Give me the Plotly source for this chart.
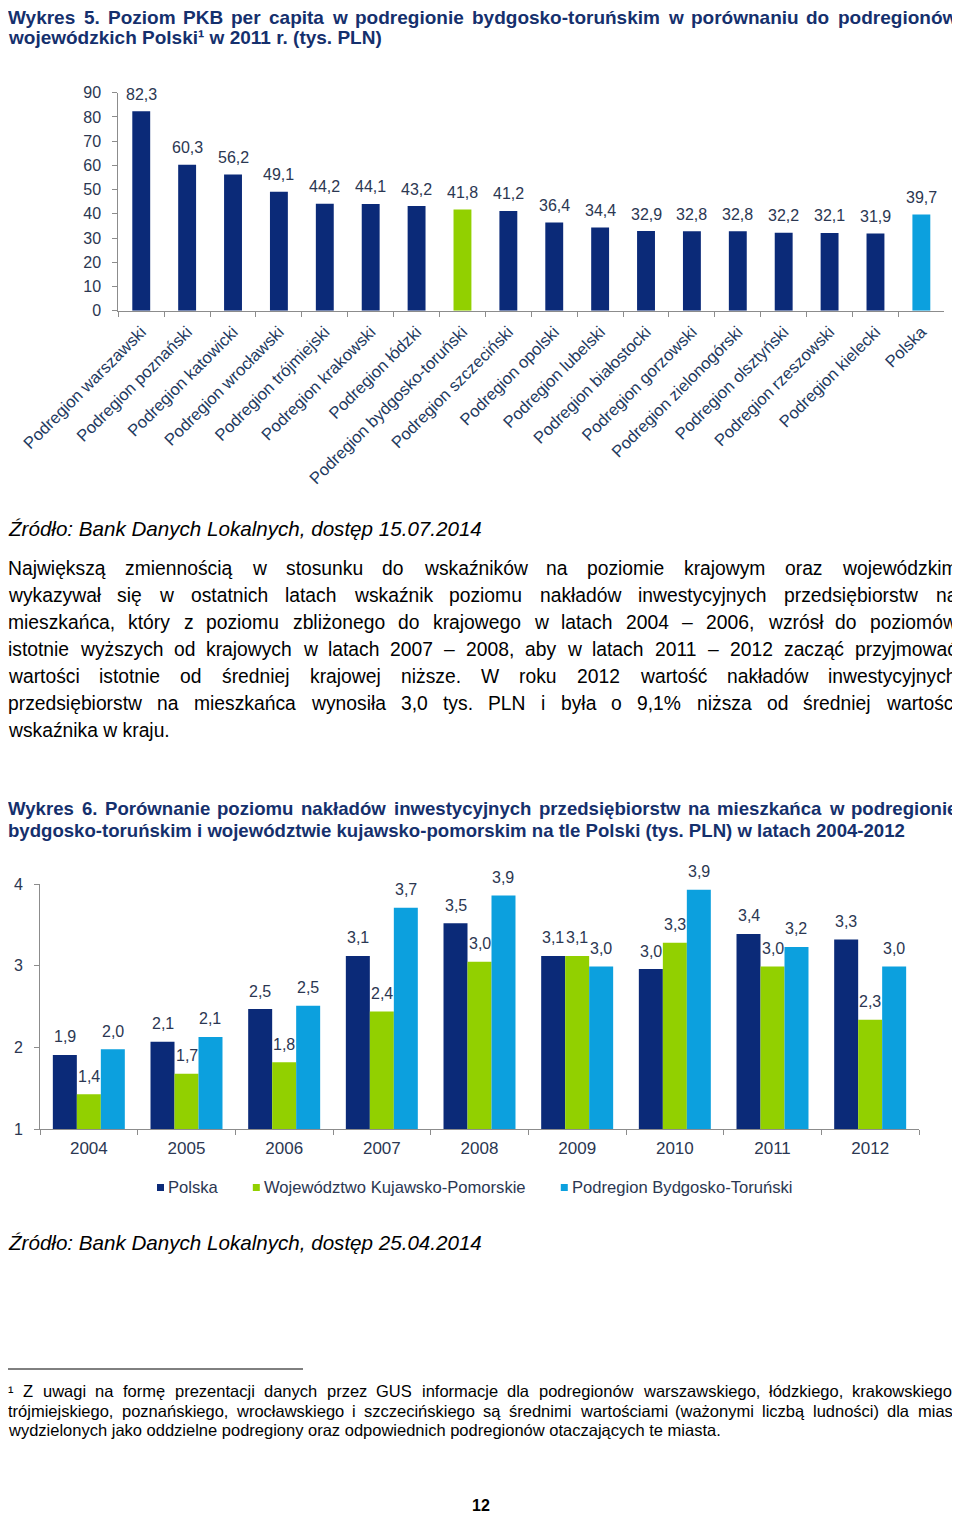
import plotly.graph_objects as go

# ---------------- DATA ----------------
regions = ["Podregion warszawski", "Podregion poznański", "Podregion katowicki",
           "Podregion wrocławski", "Podregion trójmiejski", "Podregion krakowski",
           "Podregion łódzki", "Podregion bydgosko-toruński", "Podregion szczeciński",
           "Podregion opolski", "Podregion lubelski", "Podregion białostocki",
           "Podregion gorzowski", "Podregion zielonogórski", "Podregion olsztyński",
           "Podregion rzeszowski", "Podregion kielecki", "Polska"]
pkb_2011 = [82.3, 60.3, 56.2, 49.1, 44.2, 44.1, 43.2, 41.8, 41.2, 36.4, 34.4,
            32.9, 32.8, 32.8, 32.2, 32.1, 31.9, 39.7]
highlight_region = "Podregion bydgosko-toruński"
highlight_country = "Polska"

years = ["2004", "2005", "2006", "2007", "2008", "2009", "2010", "2011", "2012"]
series_names = ["Polska", "Województwo Kujawsko-Pomorskie", "Podregion Bydgosko-Toruński"]
inv_polska = [1.91, 2.07, 2.47, 3.12, 3.52, 3.12, 2.96, 3.39, 3.32]
inv_woj = [1.43, 1.68, 1.82, 2.44, 3.05, 3.12, 3.28, 2.99, 2.34]
inv_podregion = [1.98, 2.13, 2.51, 3.71, 3.86, 2.99, 3.93, 3.23, 2.99]

# ---------------- STYLE ----------------
# The page body has an 8px default margin: the figure starts at (8, 8) in the window.
# Height is kept so that the page does not scroll.
OX, OY = 8, 8
W, H = 960 - OX, 1524 - 2 * OY
FONT = "Liberation Sans, Arial, sans-serif"
NAVY = "#0B2A78"
GREEN = "#92D000"
LBLUE = "#0CA0DE"
TITLE_C = "#15306D"
CHART_TXT = "#2B3752"
CAT_TXT = "#22395E"
AXIS_C = "#8C8C8C"
series_colors = [NAVY, GREEN, LBLUE]


def px(x):
    return (x - OX) / W


def py(y):
    return 1 - (y - OY) / H


REG = {' ': 278, '¹': 333, '%': 889, '(': 333, ')': 333, ',': 278, '-': 333, '.': 278,
       ':': 278, '–': 556,
       'A': 667, 'B': 667, 'C': 722, 'D': 722, 'E': 667, 'F': 611, 'G': 778, 'H': 722,
       'I': 278, 'J': 500, 'K': 667, 'L': 556, 'M': 833, 'N': 722, 'O': 778, 'P': 667,
       'Q': 778, 'R': 722, 'S': 667, 'T': 611, 'U': 722, 'V': 667, 'W': 944, 'X': 667,
       'Y': 667, 'Z': 611,
       'a': 556, 'b': 556, 'c': 500, 'd': 556, 'e': 556, 'f': 278, 'g': 556, 'h': 556,
       'i': 222, 'j': 222, 'k': 500, 'l': 222, 'm': 833, 'n': 556, 'o': 556, 'p': 556,
       'q': 556, 'r': 333, 's': 500, 't': 278, 'u': 556, 'v': 500, 'w': 722, 'x': 500,
       'y': 500, 'z': 500,
       'ą': 556, 'ć': 500, 'ę': 556, 'ł': 222, 'ń': 556, 'ó': 556, 'ś': 500, 'ź': 500,
       'ż': 500, 'Ź': 611, 'Ż': 611}
BOLD = {' ': 278, '¹': 333, '%': 889, '(': 333, ')': 333, ',': 278, '-': 333, '.': 278,
        ':': 333, '–': 556,
        'A': 722, 'B': 722, 'C': 722, 'D': 722, 'E': 667, 'F': 611, 'G': 778, 'H': 722,
        'I': 278, 'J': 556, 'K': 722, 'L': 611, 'M': 833, 'N': 722, 'O': 778, 'P': 667,
        'Q': 778, 'R': 722, 'S': 667, 'T': 611, 'U': 722, 'V': 667, 'W': 944, 'X': 667,
        'Y': 667, 'Z': 611,
        'a': 556, 'b': 611, 'c': 556, 'd': 611, 'e': 556, 'f': 333, 'g': 611, 'h': 611,
        'i': 278, 'j': 278, 'k': 556, 'l': 278, 'm': 889, 'n': 611, 'o': 611, 'p': 611,
        'q': 611, 'r': 389, 's': 556, 't': 333, 'u': 611, 'v': 556, 'w': 778, 'x': 556,
        'y': 556, 'z': 500,
        'ą': 556, 'ć': 556, 'ę': 556, 'ł': 278, 'ń': 611, 'ó': 611, 'ś': 556, 'ź': 500,
        'ż': 500, 'Ź': 611, 'Ż': 611}


def tw(s, size, bold=False):
    t = BOLD if bold else REG
    return sum(t.get(c, 556) for c in s) * size / 1000.0


annotations = []
shapes = []


def text_line(text, y, size, bold=False, italic=False, color="#000000",
              justify=False, x0=8, x1=957):
    weight = "bold" if bold else "normal"
    style = "italic" if italic else "normal"
    fnt = dict(family=FONT, size=size, color=color, weight=weight, style=style)
    words = text.split(" ")
    if justify and len(words) > 1:
        widths = [tw(wd, size, bold) for wd in words]
        gap = (x1 - x0 - sum(widths)) / (len(words) - 1)
        x = x0
        for wd, w in zip(words, widths):
            annotations.append(dict(text=wd, x=px(x), y=py(y), xref="paper", yref="paper",
                                    xanchor="left", yanchor="middle", showarrow=False,
                                    font=fnt, borderpad=0, borderwidth=0))
            x += w + gap
    else:
        annotations.append(dict(text=text, x=px(x0), y=py(y), xref="paper", yref="paper",
                                xanchor="left", yanchor="middle", showarrow=False,
                                font=fnt, borderpad=0, borderwidth=0))


def fmt(v):
    return f"{v:.1f}".replace(".", ",")


# ---------------- TEXT ----------------
text_line("Wykres 5. Poziom PKB per capita w podregionie bydgosko-toruńskim w porównaniu do podregionów",
          17, 19.0, bold=True, color=TITLE_C, justify=True)
text_line("wojewódzkich Polski¹ w 2011 r. (tys. PLN)", 37, 19.0, bold=True, color=TITLE_C)

text_line("Źródło: Bank Danych Lokalnych, dostęp 15.07.2014", 529, 20.6, italic=True)

para = [
    "Największą zmiennością w stosunku do wskaźników na poziomie krajowym oraz wojewódzkim",
    "wykazywał się w ostatnich latach wskaźnik poziomu nakładów inwestycyjnych przedsiębiorstw na",
    "mieszkańca, który z poziomu zbliżonego do krajowego w latach 2004 – 2006, wzrósł do poziomów",
    "istotnie wyższych od krajowych w latach 2007 – 2008, aby w latach 2011 – 2012 zacząć przyjmować",
    "wartości istotnie od średniej krajowej niższe. W roku 2012 wartość nakładów inwestycyjnych",
    "przedsiębiorstw na mieszkańca wynosiła 3,0 tys. PLN i była o 9,1% niższa od średniej wartości",
    "wskaźnika w kraju.",
]
for i, line in enumerate(para):
    text_line(line, 568 + 27 * i, 19.3, justify=(i < len(para) - 1))

text_line("Wykres 6. Porównanie poziomu nakładów inwestycyjnych przedsiębiorstw na mieszkańca w podregionie",
          808, 18.6, bold=True, color=TITLE_C, justify=True)
text_line("bydgosko-toruńskim i województwie kujawsko-pomorskim na tle Polski (tys. PLN) w latach 2004-2012",
          830, 18.6, bold=True, color=TITLE_C)

text_line("Źródło: Bank Danych Lokalnych, dostęp 25.04.2014", 1242, 20.6, italic=True)

foot = [
    "¹ Z uwagi na formę prezentacji danych przez GUS informacje dla podregionów warszawskiego, łódzkiego, krakowskiego,",
    "trójmiejskiego, poznańskiego, wrocławskiego i szczecińskiego są średnimi wartościami (ważonymi liczbą ludności) dla miast",
    "wydzielonych jako oddzielne podregiony oraz odpowiednich podregionów otaczających te miasta.",
]
for i, line in enumerate(foot):
    text_line(line, 1391 + 19.5 * i, 16.5, justify=(i < len(foot) - 1))
shapes.append(dict(type="line", xref="paper", yref="paper", x0=px(8), x1=px(303),
                   y0=py(1369), y1=py(1369), line=dict(color="#000000", width=1)))

annotations.append(dict(text="12", x=px(481), y=py(1505), xref="paper", yref="paper",
                        xanchor="center", yanchor="middle", showarrow=False,
                        borderpad=0, borderwidth=0,
                        font=dict(family=FONT, size=16, color="#000000", weight="bold")))

# ---------------- CHART 1 ----------------
fig = go.Figure()
colors1 = [GREEN if r == highlight_region else (LBLUE if r == highlight_country else NAVY)
           for r in regions]
fig.add_trace(go.Bar(x=regions, y=pkb_2011, marker=dict(color=colors1, line=dict(width=0)),
                     width=0.39, xaxis="x", yaxis="y", showlegend=False, hoverinfo="skip"))
for i, v in enumerate(pkb_2011):
    annotations.append(dict(text=fmt(v), x=i, y=v, xref="x", yref="y", yshift=17,
                            showarrow=False, yanchor="middle",
                            font=dict(family=FONT, size=16, color=CHART_TXT)))

# ---------------- CHART 2 ----------------
bargap2 = 0.263
c2_x0, c2_x1 = 40, 919
cat_px = (c2_x1 - c2_x0) / len(years)
bar_px = (1 - bargap2) / 3 * cat_px
for k, (name, vals, col) in enumerate(zip(series_names, [inv_polska, inv_woj, inv_podregion],
                                          series_colors)):
    fig.add_trace(go.Bar(x=years, y=vals, name=name, marker=dict(color=col, line=dict(width=0)),
                         xaxis="x2", yaxis="y2", showlegend=False, hoverinfo="skip",
                         offsetgroup=str(k)))
    for i, v in enumerate(vals):
        annotations.append(dict(text=fmt(v), x=i, y=v, xref="x2", yref="y2", yshift=18,
                                xshift=(k - 1) * bar_px, showarrow=False, yanchor="middle",
                                font=dict(family=FONT, size=16, color=CHART_TXT)))

# legend (chart 2)
lx = 157
for name, col in zip(series_names, series_colors):
    shapes.append(dict(type="rect", xref="paper", yref="paper", x0=px(lx), x1=px(lx + 7),
                       y0=py(1191), y1=py(1184), fillcolor=col, line=dict(width=0)))
    annotations.append(dict(text=name, x=px(lx + 11), y=py(1187), xref="paper", yref="paper",
                            xanchor="left", yanchor="middle", showarrow=False,
                            borderpad=0, borderwidth=0,
                            font=dict(family=FONT, size=16.6, color=CHART_TXT)))
    lx += 11 + tw(name, 16.6) + 35

fig.update_layout(
    width=W, height=H, margin=dict(l=0, r=0, t=0, b=0, autoexpand=False),
    paper_bgcolor="white", plot_bgcolor="white",
    barmode="group", bargap=bargap2, bargroupgap=0,
    separators=", ",
    font=dict(family=FONT),
    xaxis=dict(domain=[px(118.3), px(944.3)], anchor="y", type="category",
               range=[-0.5, len(regions) - 0.5], automargin=False,
               showline=True, linecolor=AXIS_C, linewidth=1, ticks="outside", ticklen=5,
               tickcolor=AXIS_C, tickson="boundaries", tickangle=-45, showgrid=False,
               ticklabelstandoff=4,
               tickfont=dict(family=FONT, size=16.6, color=CAT_TXT), fixedrange=True),
    yaxis=dict(domain=[py(310.7), py(92.7)], anchor="x", range=[0, 90], dtick=10,
               automargin=False,
               showline=True, linecolor=AXIS_C, linewidth=1, ticks="outside", ticklen=5,
               tickcolor=AXIS_C, showgrid=False, zeroline=False, ticklabelstandoff=8,
               tickfont=dict(family=FONT, size=16, color=CHART_TXT)),
    xaxis2=dict(domain=[px(c2_x0), px(c2_x1)], anchor="y2", type="category",
                range=[-0.5, len(years) - 0.5], automargin=False, tickangle=0,
                showline=True, linecolor=AXIS_C, linewidth=1, ticks="outside", ticklen=5,
                tickcolor=AXIS_C, tickson="boundaries", showgrid=False, ticklabelstandoff=3,
                tickfont=dict(family=FONT, size=17, color=CHART_TXT)),
    yaxis2=dict(domain=[py(1129.3), py(884)], anchor="x2", range=[1, 4], dtick=1,
                automargin=False,
                showline=True, linecolor=AXIS_C, linewidth=1, ticks="outside", ticklen=5,
                tickcolor=AXIS_C, showgrid=False, zeroline=False, ticklabelstandoff=8,
                tickfont=dict(family=FONT, size=16, color=CHART_TXT)),
    annotations=annotations,
    shapes=shapes,
)

fig.write_html("out.html")
